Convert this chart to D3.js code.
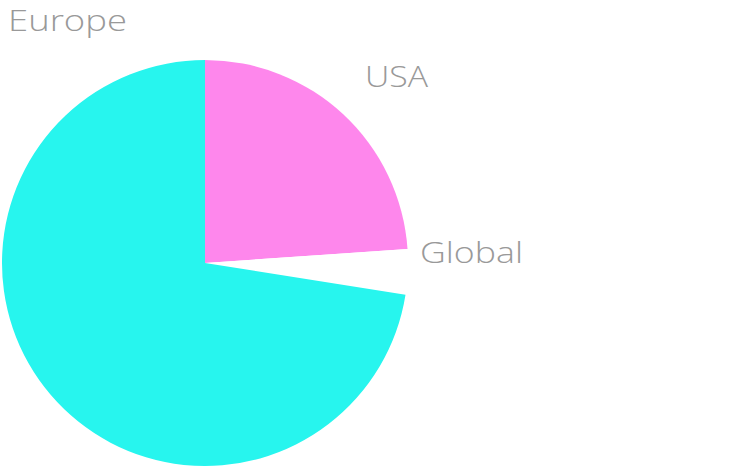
<!DOCTYPE html>
<html><head><meta charset="utf-8">
<script src="https://cdn.jsdelivr.net/npm/d3@7"></script>
<style>body{margin:0;background:#fff}svg{display:block}</style>
</head><body>
<svg id="c" width="750" height="469"></svg>
<script>
const categories = ["USA", "Global", "Europe"];
const values = [23.9, 3.6, 72.5];
const colors = ["#fe87ec", "#ffffff", "#27f5ee"];

const svg = d3.select("#c");
const cx = 205, cy = 263, r = 203;
const pie = d3.pie().sort(null).value(d => d)(values);
const arc = d3.arc().innerRadius(0).outerRadius(r);
const g = svg.append("g").attr("transform", `translate(${cx},${cy})`);
g.selectAll("path").data(pie).join("path")
  .attr("d", arc).attr("fill", (d, i) => colors[i]);

// label layout: [x, baseline y, text width]
const labelPos = {USA: [365, 87, 63], Global: [420, 263, 103], Europe: [8, 31, 119]};
svg.selectAll("text.lab").data(categories).join("text")
  .attr("class", "lab")
  .attr("x", d => labelPos[d][0]).attr("y", d => labelPos[d][1])
  .attr("textLength", d => labelPos[d][2])
  .attr("lengthAdjust", "spacingAndGlyphs")
  .attr("font-family", "Open Sans").attr("font-size", 30)
  .attr("font-weight", 300)
  .attr("fill", "#999999")
  .text(d => d);
</script>
</body></html>
